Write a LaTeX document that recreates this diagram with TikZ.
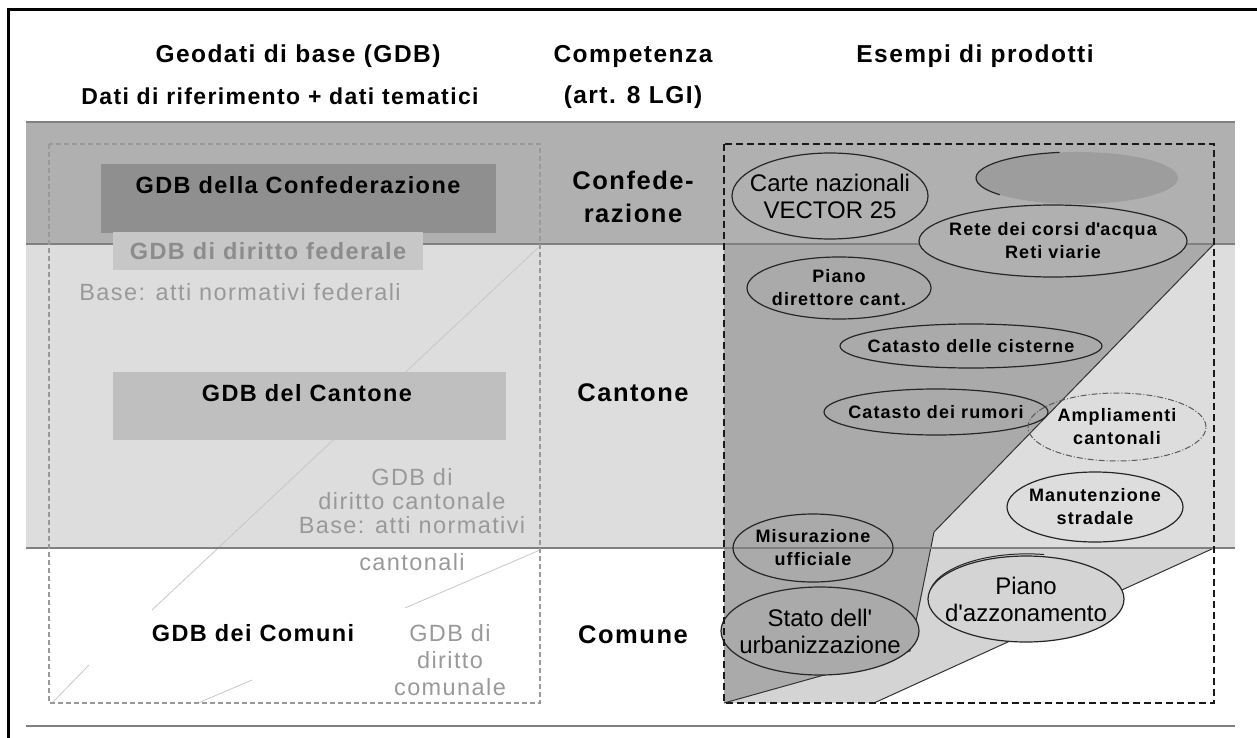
\documentclass[tikz,border=0pt]{standalone}
\usepackage{fontspec}
\setmainfont{Liberation Sans}
\newfontfamily\trk[LetterSpace=6]{Liberation Sans}
\usetikzlibrary{positioning,shapes.geometric}

\definecolor{confband}{gray}{0.69}
\definecolor{cantband}{gray}{0.865}
\definecolor{confbox}{gray}{0.56}
\definecolor{fedbox}{gray}{0.78}
\definecolor{cantbox}{gray}{0.75}
\definecolor{darkreg}{gray}{0.665}
\definecolor{lightreg}{gray}{0.83}
\definecolor{faded}{gray}{0.6}

\begin{document}
\begin{tikzpicture}[x=1pt,y=-1pt,
  hdr/.style={font=\trk\bfseries\fontsize{24.5}{30}\selectfont,align=center},
  lvl/.style={font=\trk\bfseries\fontsize{25.5}{33}\selectfont,align=center},
  gdb/.style={font=\trk\bfseries\fontsize{23.5}{26}\selectfont},
  faint/.style={font=\trk\fontsize{23.5}{24}\selectfont,text=faded,align=center},
  oval/.style={ellipse,draw=black!85,line width=1.2pt,inner sep=0pt},
  prod/.style={font=\trk\bfseries\fontsize{18}{23}\selectfont,align=center},
  plain/.style={font=\fontsize{24}{27}\selectfont,align=center},
  bandline/.style={draw=black!50,line width=1.6pt},
  hint/.style={draw=black!22,line width=0.8pt},
  edge/.style={draw=black!80,line width=1pt}] %
  \useasboundingbox (0,0) rectangle (1257,738);
  \draw[line width=3pt] (8,738) -- (8,10) -- (1257,10);
  % bands
  \fill[confband] (26,122) rectangle (1235,244);
  \fill[cantband] (26,244) rectangle (1235,548);
  % product areas
  \fill[lightreg] (724,548) -- (1214,548) -- (874,703) -- (724,703) -- cycle;
  \draw[edge] (874,703) -- (1214,548);
  \fill[darkreg] (724,244) -- (1214,244) -- (934,532) -- (910,651) -- (724,703) -- cycle;
  \draw[edge] (1214,244) -- (934,532) -- (910,651) -- (724,703);
  \draw[hint] (540,246) -- (152,610);
  \draw[hint] (540,550) -- (405,608);
  \draw[hint] (89,665) -- (52,703);
  \draw[hint] (252,680) -- (198,703);
  \foreach \y in {122,244,548,726} \draw[bandline] (26,\y) -- (1235,\y);
  % headers
  \node[hdr] (geo) at (298,56) {Geodati di base (GDB)};
  \node[hdr,font=\trk\bfseries\fontsize{23}{26}\selectfont,below=13pt of geo,xshift=-18pt] (dati) {Dati di riferimento + dati tematici};
  \node[hdr] (comp) at (633,56) {Competenza};
  \node[hdr,below=12pt of comp] (art) {(art. 8 LGI)};
  \node[hdr] (esempi) at (975,56) {Esempi di prodotti};
  % levels
  \node[lvl] (confed) at (633,197) {Confede-\\razione};
  \node[lvl] (canton) at (633,393) {Cantone};
  \node[lvl] (comune) at (633,635) {Comune};
  % left column
  \node[fill=confbox,minimum width=395,minimum height=69,anchor=north west] (confbox) at (101,164) {};
  \node[gdb] (confgdb) at (298,185) {GDB della Confederazione};
  \node[gdb,fill=fedbox,text=black!45,minimum width=310,minimum height=38] (fed) at (268,251) {GDB di diritto federale};
  \node[faint] (fedbase) at (240,292) {Base: atti normativi federali};
  \node[fill=cantbox,minimum width=393,minimum height=68,anchor=north west] (cantbox) at (113,372) {};
  \node[gdb] (cantgdb) at (307,393) {GDB del Cantone};
  \node[faint] (cantlaw) at (412,520) {GDB di\\diritto cantonale\\Base: atti normativi\\[13pt]cantonali};
  \node[gdb] (comgdb) at (253,633) {GDB dei Comuni};
  \node[faint,font=\trk\fontsize{23.5}{27}\selectfont] (comlaw) at (450,660) {GDB di\\diritto\\comunale};
  % products
  \fill[gray!77!white] (1077,178) ellipse [x radius=101,y radius=26];
  \draw[black!85,line width=1.2pt] (1059.5,152.4) arc [start angle=260,end angle=140,x radius=101,y radius=26];
  \node[oval,minimum width=196,minimum height=86,label={[plain]center:{Carte nazionali\\VECTOR 25}}] (carte) at (830,196) {};
  \node[oval,fill=confband,minimum width=268,minimum height=72,label={[prod]center:{Rete dei corsi d\textquotesingle acqua\\Reti viarie}}] (rete) at (1053,241) {};
  \node[oval,minimum width=184,minimum height=62,label={[prod]center:{Piano\\direttore cant.}}] (piano) at (839,288) {};
  \node[oval,minimum width=262,minimum height=44,label={[prod]center:Catasto delle cisterne}] (cisterne) at (971,346) {};
  \node[oval,minimum width=224,minimum height=46,label={[prod]center:Catasto dei rumori}] (rumori) at (936,412) {};
  \node[oval,draw=black!65,line width=1pt,dash pattern=on 6pt off 2pt on 1pt off 2pt,minimum width=178,minimum height=68,label={[prod]center:{Ampliamenti\\cantonali}}] (ampl) at (1117,427) {};
  \node[oval,minimum width=176,minimum height=70,label={[prod]center:{Manutenzione\\stradale}}] (manut) at (1095,507) {};
  \node[oval,minimum width=160,minimum height=68,label={[prod]center:{Misurazione\\ufficiale}}] (misur) at (813,548) {};
  \node[oval,fill=darkreg,minimum width=198,minimum height=88,label={[plain]center:{Stato dell\textquotesingle\\urbanizzazione}}] (stato) at (820,631) {};
  \draw[black!85,line width=1pt] (930.5,589.4) arc [start angle=190,end angle=280,x radius=98,y radius=43];
  \node[oval,fill=lightreg,minimum width=196,minimum height=86,label={[plain]center:{Piano\\d\textquotesingle azzonamento}}] (azz) at (1026,599) {};
  % frames
  \draw[black!40,line width=1.2pt,dash pattern=on 5pt off 3pt] (49,144) rectangle (540,703);
  \draw[black!90,line width=1.5pt,dash pattern=on 7pt off 4pt] (724,144) rectangle (1214,703);
\end{tikzpicture}
\end{document}
